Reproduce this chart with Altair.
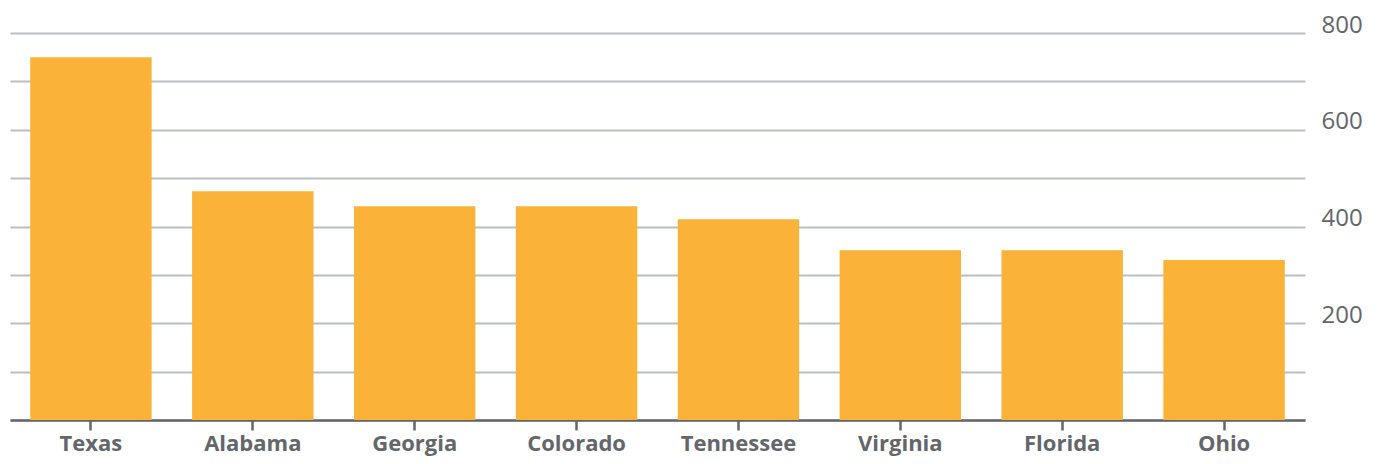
import altair as alt
import pandas as pd

states = ["Texas", "Alabama", "Georgia", "Colorado", "Tennessee", "Virginia", "Florida", "Ohio"]
values = [750, 473, 442, 442, 415, 351, 351, 331]
y_ticks = [0, 100, 200, 300, 400, 500, 600, 700, 800]

df = pd.DataFrame({"state": states, "value": values})

FONT = "Open Sans"
DARK = "#63666a"

chart = alt.Chart(df).mark_bar(color="#FAB338").encode(
    x=alt.X("state:N", sort=states, title=None,
            scale=alt.Scale(paddingInner=0.25, paddingOuter=0.125),
            axis=alt.Axis(labelAngle=0, labelFont=FONT, labelFontWeight="bold",
                          labelFontSize=22, labelColor=DARK, labelPadding=3,
                          labelBaseline="top",
                          domainColor=DARK, domainWidth=2.5, tickColor=DARK,
                          tickWidth=2.5, tickSize=10, grid=False)),
    y=alt.Y("value:Q", title=None,
            scale=alt.Scale(domain=[0, 800], nice=False),
            axis=alt.Axis(orient="right", values=y_ticks, grid=True,
                          gridColor="#b9bec3", gridWidth=2, domain=False,
                          ticks=False, labelFont=FONT, labelFontSize=24,
                          labelColor=DARK, labelPadding=16, labelOffset=-8,
                          labelExpr="datum.value % 200 == 0 && datum.value > 0 ? datum.label : ''")),
).properties(
    width=1295, height=387,
    autosize=alt.AutoSizeParams(type="none"),
    padding={"top": 25, "left": 2, "right": 60, "bottom": 36},
).configure_view(stroke=None)

chart.save("out.html", embed_options={"renderer": "svg", "actions": False})
